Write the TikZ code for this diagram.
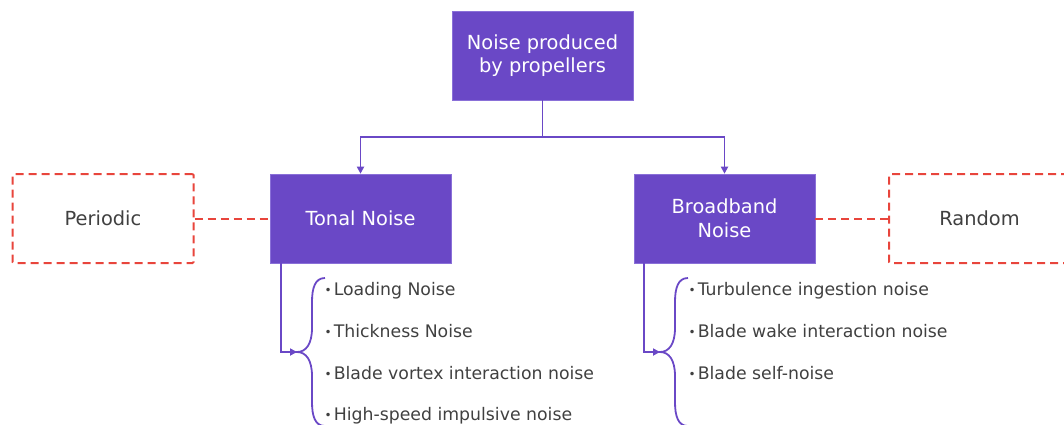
\documentclass[tikz,border=0pt]{standalone}
\usepackage{fontspec}
\setmainfont{DejaVu Sans}
\usetikzlibrary{arrows.meta,calc}
\definecolor{pur}{HTML}{6A48C6}
\definecolor{pborder}{HTML}{8A70D8}
\definecolor{dred}{HTML}{E8453C}
\definecolor{tgray}{HTML}{404040}
\newcommand\mybul{{\fontsize{12}{12}\selectfont\raisebox{1pt}{•}}\kern2pt}
\tikzset{
 pbox/.style={fill=pur, draw=pborder, line width=0.6pt, minimum width=181pt, minimum height=89pt, inner sep=0pt, text=white, align=center, font=\fontsize{19.4}{23.5}\selectfont},
 dbox/.style={draw=dred, dash pattern=on 8pt off 5pt, line width=2pt, rounded corners=1pt, minimum width=181pt, minimum height=89pt, inner sep=0pt, text=tgray, font=\fontsize{19.4}{23.5}\selectfont},
 conn/.style={draw=pur, line width=1.8pt},
 arr/.style={conn, -{Triangle[length=7pt,width=7pt]}},
 dline/.style={draw=dred, dash pattern=on 8pt off 5pt, line width=2pt},
 item/.style={anchor=base west, inner sep=0pt, text=tgray, font=\fontsize{17.3}{20}\selectfont},
 bracepic/.pic={\draw[conn] (28,-74) .. controls (18,-74) and (15,-64) .. (15,-50) -- (15,-24) .. controls (15,-8) and (9,0) .. (0,0) .. controls (9,0) and (15,8) .. (15,24) -- (15,50) .. controls (15,64) and (18,74) .. (28,74);},
}
\begin{document}
\begin{tikzpicture}[x=1pt,y=-1pt]
\useasboundingbox (0,0) rectangle (1064,424);
\clip (0,0) rectangle (1064,424);
% boxes
\node[pbox] (root) at (542.5,55.5) {Noise produced\\by propellers};
\node[pbox] (tonal) at (360.5,218.5) {Tonal Noise};
\node[pbox] (broad) at (724.5,218.5) {Broadband\\Noise};
\node[dbox] (per) at (103,218.5) {Periodic};
\node[dbox] (rand) at (979.5,218.5) {Random};
% tree connectors
\coordinate (mid) at (542.5,137);
\draw[conn] (root.south) -- (mid);
\draw[arr] (mid) -| (tonal.north);
\draw[arr] (mid) -| (broad.north);
% dashed links
\draw[dline] (per.east) -- (tonal.west);
\draw[dline] (broad.east) -- (rand.west);
% braces
\coordinate (bt1) at (297,352);
\coordinate (bt2) at (660,352);
\draw[arr] ($(tonal.south west)+(11,0)$) |- (bt1);
\draw[arr] ($(broad.south west)+(10,0)$) |- (bt2);
\pic at (bt1) {bracepic};
\pic at (bt2) {bracepic};
% items
\node[item] (t1) at (324.5,295.5) {\mybul Loading Noise};
\node[item] (t2) at (324.5,337.2) {\mybul Thickness Noise};
\node[item] (t3) at (324.5,379) {\mybul Blade vortex interaction noise};
\node[item] (t4) at (324.5,420.7) {\mybul High-speed impulsive noise};
\node[item] (b1) at (688.5,295.5) {\mybul Turbulence ingestion noise};
\node[item] (b2) at (688.5,337.2) {\mybul Blade wake interaction noise};
\node[item] (b3) at (688.5,379) {\mybul Blade self-noise};
\end{tikzpicture}
\end{document}
